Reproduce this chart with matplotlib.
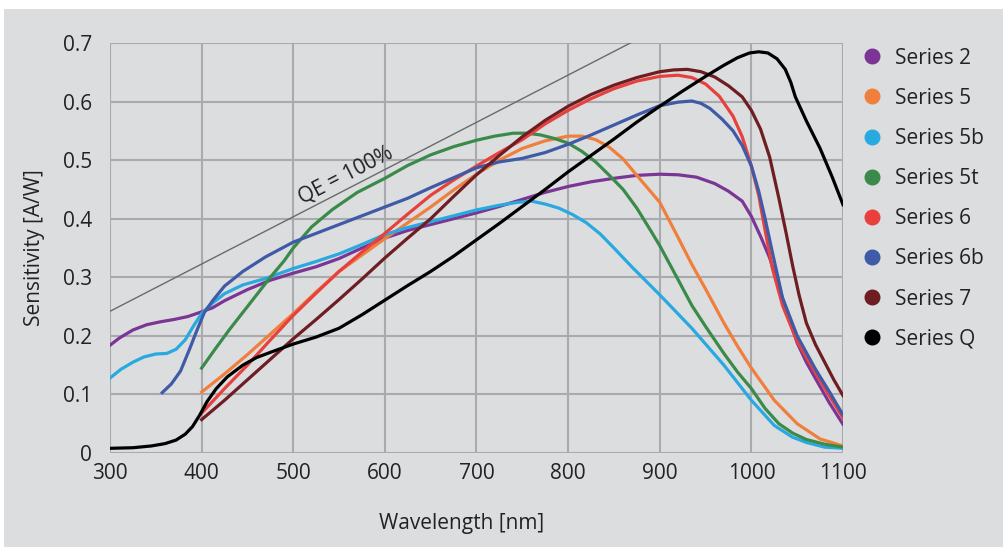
import numpy as np
import matplotlib.pyplot as plt
from matplotlib.lines import Line2D
from matplotlib.patches import Rectangle

# values (wavelength nm, sensitivity A/W)
s2_x = [300, 310, 325, 340, 355, 370, 385, 400, 412, 425, 450, 475, 500, 525, 550, 575,
        600, 625, 650, 675, 700, 725, 750, 775, 800, 825, 850, 875, 900, 920, 940, 960,
        975, 990, 1000, 1010, 1020, 1030, 1040, 1050, 1060, 1070, 1085, 1100]
s2_y = [0.184, 0.196, 0.21, 0.219, 0.224, 0.228, 0.233, 0.241, 0.248, 0.26, 0.279, 0.295,
        0.307, 0.318, 0.332, 0.35, 0.367, 0.38, 0.39, 0.4, 0.41, 0.421, 0.433, 0.445,
        0.455, 0.463, 0.469, 0.474, 0.476, 0.475, 0.471, 0.46, 0.447, 0.43, 0.404, 0.37,
        0.333, 0.283, 0.235, 0.188, 0.155, 0.127, 0.086, 0.049]

s5_x = [400, 425, 450, 475, 500, 525, 550, 575, 600, 625, 650, 675, 700, 725, 750, 775,
        800, 815, 830, 845, 860, 875, 900, 920, 935, 950, 970, 985, 1000, 1025, 1050,
        1075, 1100]
s5_y = [0.104, 0.135, 0.168, 0.203, 0.238, 0.275, 0.31, 0.338, 0.366, 0.393, 0.42, 0.449,
        0.476, 0.5, 0.52, 0.533, 0.541, 0.541, 0.535, 0.522, 0.502, 0.474, 0.428, 0.368,
        0.322, 0.28, 0.222, 0.182, 0.145, 0.09, 0.05, 0.024, 0.012]

s5b_x = [300, 312, 325, 337, 350, 362, 372, 382, 392, 400, 412, 425, 445, 470, 500, 525,
         550, 575, 600, 625, 650, 675, 700, 725, 745, 760, 775, 790, 805, 820, 835, 850,
         870, 900, 935, 970, 1000, 1025, 1045, 1060, 1080, 1100]
s5b_y = [0.128, 0.143, 0.155, 0.164, 0.169, 0.17, 0.177, 0.193, 0.219, 0.238, 0.256,
         0.272, 0.287, 0.298, 0.315, 0.327, 0.34, 0.356, 0.373, 0.385, 0.395, 0.405, 0.415,
         0.423, 0.428, 0.43, 0.425, 0.418, 0.407, 0.393, 0.374, 0.35, 0.317, 0.27, 0.213,
         0.15, 0.09, 0.047, 0.027, 0.018, 0.01, 0.008]

s5t_x = [400, 415, 430, 445, 460, 475, 490, 500, 520, 543, 570, 600, 625, 650, 675, 700,
         720, 740, 755, 770, 785, 800, 815, 830, 845, 860, 875, 890, 900, 920, 935, 950,
         970, 985, 1000, 1015, 1030, 1045, 1060, 1080, 1100]
s5t_y = [0.145, 0.178, 0.21, 0.24, 0.27, 0.3, 0.328, 0.35, 0.386, 0.416, 0.445, 0.469,
         0.491, 0.509, 0.523, 0.534, 0.541, 0.546, 0.546, 0.543, 0.537, 0.529, 0.515, 0.497,
         0.474, 0.45, 0.418, 0.38, 0.354, 0.296, 0.252, 0.216, 0.17, 0.138, 0.11, 0.076,
         0.05, 0.034, 0.023, 0.015, 0.01]

s6_x = [400, 425, 450, 475, 500, 525, 550, 575, 600, 625, 650, 675, 700, 725, 750, 775,
        800, 825, 850, 875, 900, 920, 935, 950, 965, 980, 990, 1000, 1008, 1015, 1023,
        1034, 1050, 1070, 1085, 1100]
s6_y = [0.068, 0.11, 0.15, 0.193, 0.235, 0.273, 0.31, 0.343, 0.375, 0.408, 0.44, 0.466,
        0.49, 0.513, 0.535, 0.562, 0.585, 0.605, 0.622, 0.635, 0.643, 0.645, 0.641, 0.63,
        0.609, 0.575, 0.54, 0.49, 0.44, 0.38, 0.315, 0.252, 0.19, 0.137, 0.098, 0.06]

s6b_x = [357, 367, 377, 387, 395, 403, 412, 425, 445, 470, 500, 525, 550, 575, 600, 625,
         650, 675, 700, 725, 750, 775, 800, 825, 850, 875, 900, 920, 935, 945, 955, 968,
         980, 990, 1000, 1008, 1015, 1023, 1034, 1050, 1070, 1085, 1100]
s6b_y = [0.103, 0.118, 0.14, 0.178, 0.21, 0.24, 0.26, 0.285, 0.31, 0.335, 0.36, 0.375,
         0.39, 0.405, 0.42, 0.435, 0.453, 0.47, 0.487, 0.497, 0.503, 0.513, 0.527, 0.543,
         0.56, 0.577, 0.593, 0.599, 0.601, 0.597, 0.588, 0.57, 0.55, 0.525, 0.49, 0.447,
         0.4, 0.342, 0.265, 0.2, 0.143, 0.105, 0.065]

s7_x = [400, 425, 450, 475, 500, 525, 550, 575, 600, 625, 650, 675, 700, 725, 750, 775,
        800, 825, 850, 875, 900, 915, 930, 945, 960, 975, 990, 1000, 1010, 1020, 1030,
        1038, 1045, 1052, 1060, 1070, 1080, 1090, 1100]
s7_y = [0.057, 0.09, 0.125, 0.16, 0.195, 0.228, 0.262, 0.297, 0.333, 0.367, 0.4, 0.438,
        0.475, 0.508, 0.54, 0.568, 0.592, 0.612, 0.628, 0.641, 0.651, 0.654, 0.655, 0.651,
        0.642, 0.627, 0.608, 0.585, 0.553, 0.505, 0.435, 0.375, 0.32, 0.27, 0.222, 0.185,
        0.155, 0.125, 0.098]

sq_x = [300, 325, 345, 360, 372, 382, 390, 398, 406, 416, 428, 445, 460, 477, 500, 525,
        550, 575, 600, 625, 650, 675, 700, 725, 750, 775, 800, 825, 850, 875, 900, 925,
        950, 970, 985, 998, 1008, 1018, 1028, 1037, 1043, 1048, 1060, 1075, 1088, 1100]
sq_y = [0.008, 0.009, 0.012, 0.016, 0.022, 0.032, 0.045, 0.065, 0.088, 0.11, 0.13, 0.15,
        0.163, 0.173, 0.186, 0.198, 0.213, 0.236, 0.261, 0.286, 0.31, 0.336, 0.364, 0.392,
        0.421, 0.45, 0.48, 0.508, 0.536, 0.565, 0.592, 0.618, 0.643, 0.662, 0.675, 0.683,
        0.685, 0.683, 0.673, 0.655, 0.633, 0.608, 0.567, 0.52, 0.472, 0.424]

names = ['Series 2', 'Series 5', 'Series 5b', 'Series 5t', 'Series 6', 'Series 6b',
         'Series 7', 'Series Q']
colors = ['#7b3595', '#f07f3c', '#28a9df', '#3a8a4a', '#e8403d', '#3f5aa6', '#6e1e22',
          '#000000']
series = [(s2_x, s2_y), (s5_x, s5_y), (s5b_x, s5b_y), (s5t_x, s5t_y), (s6_x, s6_y),
          (s6b_x, s6b_y), (s7_x, s7_y), (sq_x, sq_y)]

# QE = 100% line endpoints (nm)
qe_x = [300, 1100]

plt.rcParams['font.family'] = ['Open Sans', 'DejaVu Sans']
txt = '#222222'
bg = '#dcdddf'
fs = 15

fig = plt.figure(figsize=(10.04, 5.47), dpi=100, facecolor='white')
fig.patches.append(Rectangle((4 / 1004, 0), 1, 1 - 9 / 547, transform=fig.transFigure,
                             facecolor=bg, edgecolor='none', zorder=-10))

ax = fig.add_axes([110 / 1004, 94 / 547, 733 / 1004, 410 / 547])
ax.set_facecolor(bg)

qe = np.array(qe_x, dtype=float)
ax.plot(qe, qe / 1239.84, color='#6a6a6a', lw=1.0, zorder=2)
ax.text(512, 0.418, 'QE = 100%', rotation=27.3, rotation_mode='anchor', ha='left',
        va='bottom', fontsize=fs, color=txt)

for (x, y), c in zip(series, colors):
    ax.plot(x, y, color=c, lw=2.3, solid_joinstyle='round', zorder=3)

ax.set_xlim(300, 1100)
ax.set_ylim(0, 0.7)
ax.set_xticks(np.arange(300, 1101, 100))
ax.set_yticks(np.arange(0, 0.71, 0.1))
ax.set_yticklabels(['0'] + ['%.1f' % v for v in np.arange(0.1, 0.71, 0.1)])
ax.grid(True, color='#a9aaae', lw=1.5)
ax.set_axisbelow(True)
for s in ax.spines.values():
    s.set_visible(False)
ax.tick_params(length=0, labelsize=fs, colors=txt, pad=13)
ax.tick_params(axis='x', pad=7)
ax.set_xlabel('Wavelength [nm]', fontsize=fs, color=txt)
ax.xaxis.set_label_coords(0.479, -0.1475)
ax.set_ylabel('Sensitivity [A/W]', fontsize=fs, color=txt, labelpad=13)

handles = [Line2D([], [], ls='none', marker='o', markersize=10.5, color=c) for c in colors]
fig.legend(handles, names, loc='upper left', bbox_to_anchor=(860 / 1004, 1 - 47.5 / 547),
           frameon=False, fontsize=fs, labelspacing=0.92, handletextpad=0.48,
           handlelength=1.2, labelcolor=txt, borderpad=0, borderaxespad=0)

fig.savefig('out.png', dpi=100, facecolor='white')
